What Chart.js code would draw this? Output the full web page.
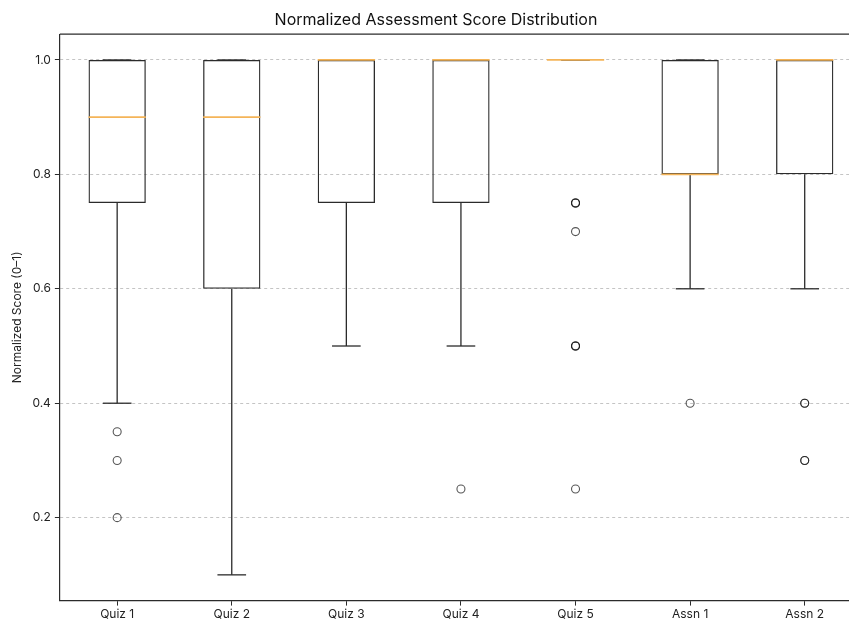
<!DOCTYPE html>
<html>
<head>
<meta charset="utf-8">
<script src="https://cdn.jsdelivr.net/npm/chart.js@4"></script>
<style>
  html, body { margin: 0; padding: 0; background: #fff; overflow: hidden; width: 849px; height: 626px; }
  #boxChart { display: block; }
</style>
</head>
<body>
<canvas id="boxChart" width="870" height="626"></canvas>
<script>
// ── data ─────────────────────────────────────────────
const labels     = ['Quiz 1', 'Quiz 2', 'Quiz 3', 'Quiz 4', 'Quiz 5', 'Assn 1', 'Assn 2'];
const whiskerLow = [0.40, 0.10, 0.50, 0.50, 1.00, 0.60, 0.60];
const q1         = [0.75, 0.60, 0.75, 0.75, 1.00, 0.80, 0.80];
const medians    = [0.90, 0.90, 1.00, 1.00, 1.00, 0.80, 1.00];
const q3         = [1.00, 1.00, 1.00, 1.00, 1.00, 1.00, 1.00];
const whiskerHigh= [1.00, 1.00, 1.00, 1.00, 1.00, 1.00, 1.00];
const outliers   = [
  [0.35, 0.30, 0.20],
  [],
  [],
  [0.25],
  [0.75, 0.75, 0.75, 0.70, 0.50, 0.50, 0.50, 0.25],
  [0.40],
  [0.40, 0.40, 0.30, 0.30]
];
const yTicks = [0.2, 0.4, 0.6, 0.8, 1.0];

const MEDIAN_COLOR = '#f4b458';
const LINE_COLOR   = '#2b2b2b';

const outlierPoints = [];
outliers.forEach((arr, i) => arr.forEach(v => outlierPoints.push({ x: labels[i], y: v })));

// whiskers, caps, medians and the top spine, drawn through the chart scales
const boxExtras = {
  id: 'boxExtras',
  afterDatasetsDraw(chart) {
    const { ctx, chartArea: a, scales: { x, y } } = chart;
    const step = x.getPixelForValue(1) - x.getPixelForValue(0);
    const boxHalf = step * 0.25;
    const capHalf = step * 0.125;
    const seg = (x0, y0, x1, y1) => { ctx.beginPath(); ctx.moveTo(x0, y0); ctx.lineTo(x1, y1); ctx.stroke(); };
    ctx.save();
    ctx.lineWidth = 1.3;
    ctx.strokeStyle = LINE_COLOR;
    labels.forEach((_, i) => {
      const cx = x.getPixelForValue(i);
      const lo = y.getPixelForValue(whiskerLow[i]);
      const hi = y.getPixelForValue(whiskerHigh[i]);
      seg(cx, y.getPixelForValue(q1[i]), cx, lo);
      seg(cx - capHalf, lo, cx + capHalf, lo);
      seg(cx, y.getPixelForValue(q3[i]), cx, hi);
      seg(cx - capHalf, hi, cx + capHalf, hi);
    });
    ctx.strokeStyle = MEDIAN_COLOR;
    ctx.lineWidth = 1.8;
    labels.forEach((_, i) => {
      const cx = x.getPixelForValue(i);
      const my = y.getPixelForValue(medians[i]);
      seg(cx - boxHalf, my, cx + boxHalf, my);
    });
    ctx.strokeStyle = LINE_COLOR;
    ctx.lineWidth = 1.2;
    seg(a.left, a.top, a.right, a.top);
    ctx.restore();
  }
};

Chart.defaults.font.family = 'Inter, "Noto Sans", sans-serif';
Chart.defaults.color = '#222';

new Chart(document.getElementById('boxChart'), {
  type: 'bar',
  data: {
    labels,
    datasets: [
      {
        label: 'IQR',
        data: labels.map((_, i) => [q1[i], q3[i]]),
        backgroundColor: 'rgba(0,0,0,0)',
        borderColor: LINE_COLOR,
        borderWidth: 1.3,
        borderSkipped: false,
        barPercentage: 0.5,
        categoryPercentage: 1.0,
        order: 2
      },
      {
        type: 'line',
        label: 'Outliers',
        data: outlierPoints,
        showLine: false,
        pointStyle: 'circle',
        pointRadius: 4,
        pointBorderWidth: 1.1,
        pointBackgroundColor: 'rgba(255,255,255,0)',
        pointBorderColor: 'rgba(30,30,30,0.75)',
        order: 1
      }
    ]
  },
  options: {
    responsive: false,
    animation: false,
    layout: { padding: { left: 10, right: 8, top: 0, bottom: 2 } },
    plugins: {
      legend: { display: false },
      tooltip: { enabled: false },
      title: {
        display: true,
        text: 'Normalized Assessment Score Distribution',
        font: { size: 16, weight: 'normal' },
        color: '#111',
        padding: { top: 11, bottom: 4 }
      }
    },
    scales: {
      x: {
        offset: true,
        grid: { offset: false, drawOnChartArea: false, drawTicks: true, tickLength: 5, tickColor: LINE_COLOR },
        border: { color: LINE_COLOR, width: 1.2 },
        ticks: { font: { size: 12 }, color: '#222', padding: 2 }
      },
      y: {
        min: 0.055,
        max: 1.045,
        afterBuildTicks: axis => { axis.ticks = yTicks.map(v => ({ value: v })); },
        grid: { color: '#c4c4c4', lineWidth: 1, tickColor: LINE_COLOR, tickLength: 5, tickBorderDash: [] },
        border: { color: LINE_COLOR, width: 1.2, dash: [3, 3] },
        ticks: { font: { size: 12 }, color: '#222', padding: 4, callback: v => v.toFixed(1) },
        title: {
          display: true,
          text: 'Normalized Score (0–1)',
          font: { size: 12 },
          color: '#222',
          padding: { top: 0, bottom: 4 }
        }
      }
    }
  },
  plugins: [boxExtras]
});
</script>
</body>
</html>
